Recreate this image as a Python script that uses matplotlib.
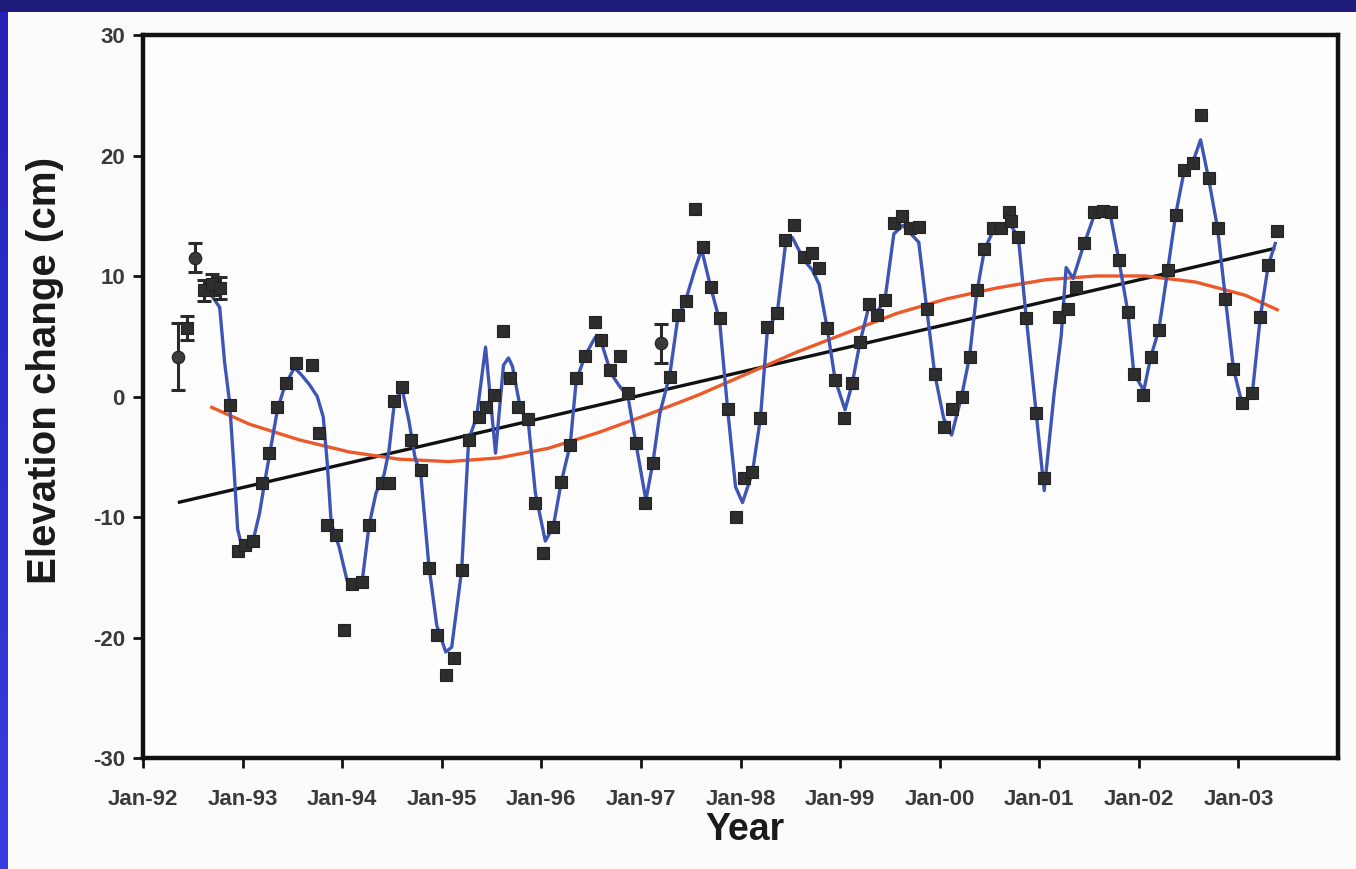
import numpy as np
import matplotlib
matplotlib.use("Agg")
import matplotlib.pyplot as plt
from matplotlib.colors import LinearSegmentedColormap

plt.rcParams['font.family'] = ['Liberation Sans', 'DejaVu Sans']
plt.rcParams['axes.unicode_minus'] = False

# ---------------- data ----------------
# observed points (decimal year, elevation change cm)
obs_year = [1992.35, 1992.44, 1992.52, 1992.61, 1992.69, 1992.77, 1992.87, 1992.95, 1993.02, 1993.10,
            1993.19, 1993.27, 1993.35, 1993.44, 1993.54, 1993.70, 1993.77, 1993.85, 1993.94, 1994.02,
            1994.10, 1994.20, 1994.27, 1994.40, 1994.47, 1994.52, 1994.60, 1994.69, 1994.79, 1994.87,
            1994.95, 1995.04, 1995.12, 1995.20, 1995.27, 1995.37, 1995.44, 1995.52, 1995.62, 1995.69,
            1995.77, 1995.87, 1995.94, 1996.02, 1996.12, 1996.20, 1996.29, 1996.35, 1996.44, 1996.54,
            1996.60, 1996.69, 1996.79, 1996.87, 1996.95, 1997.04, 1997.12, 1997.20, 1997.29, 1997.37,
            1997.45, 1997.54, 1997.62, 1997.70, 1997.79, 1997.87, 1997.95, 1998.04, 1998.12, 1998.20,
            1998.27, 1998.37, 1998.45, 1998.54, 1998.64, 1998.72, 1998.79, 1998.87, 1998.95, 1999.04,
            1999.12, 1999.20, 1999.29, 1999.37, 1999.45, 1999.54, 1999.62, 1999.70, 1999.79, 1999.87,
            1999.95, 2000.04, 2000.12, 2000.22, 2000.30, 2000.37, 2000.45, 2000.54, 2000.62, 2000.70,
            2000.72, 2000.79, 2000.87, 2000.97, 2001.05, 2001.20, 2001.29, 2001.37, 2001.45, 2001.55,
            2001.64, 2001.72, 2001.80, 2001.89, 2001.95, 2002.04, 2002.12, 2002.20, 2002.29, 2002.37,
            2002.45, 2002.54, 2002.62, 2002.70, 2002.79, 2002.87, 2002.95, 2003.04, 2003.14, 2003.22,
            2003.30, 2003.39]
obs_cm = [3.3, 5.7, 11.5, 8.8, 9.3, 9.0, -0.7, -12.8, -12.3, -12.0,
          -7.2, -4.7, -0.9, 1.1, 2.8, 2.6, -3.0, -10.7, -11.5, -19.4,
          -15.6, -15.4, -10.7, -7.2, -7.2, -0.4, 0.8, -3.6, -6.1, -14.2,
          -19.8, -23.1, -21.7, -14.4, -3.6, -1.7, -0.9, 0.1, 5.4, 1.5,
          -0.9, -1.9, -8.8, -13.0, -10.8, -7.1, -4.0, 1.5, 3.4, 6.2,
          4.7, 2.2, 3.4, 0.3, -3.9, -8.8, -5.5, 4.4, 1.6, 6.8,
          7.9, 15.6, 12.4, 9.1, 6.5, -1.0, -10.0, -6.8, -6.3, -1.8,
          5.8, 6.9, 13.0, 14.2, 11.6, 11.9, 10.7, 5.7, 1.4, -1.8,
          1.1, 4.5, 7.7, 6.8, 8.0, 14.4, 15.0, 14.0, 14.1, 7.3,
          1.9, -2.5, -1.0, 0.0, 3.3, 8.8, 12.2, 14.0, 14.0, 15.3,
          14.6, 13.2, 6.5, -1.4, -6.8, 6.6, 7.3, 9.1, 12.7, 15.3,
          15.4, 15.3, 11.3, 7.0, 1.9, 0.1, 3.3, 5.5, 10.5, 15.1,
          18.8, 19.4, 23.4, 18.1, 14.0, 8.1, 2.3, -0.5, 0.3, 6.6,
          10.9, 13.7]
# points drawn as circles
circle_idx = [0, 2, 57]
# points carrying visible error bars and their half-widths (cm)
err_idx = [0, 1, 2, 3, 4, 5, 57]
err_cm = [2.8, 1.0, 1.2, 0.9, 0.9, 0.9, 1.6]

# blue smoothed curve
blue_year = [1992.67, 1992.77, 1992.82, 1992.87, 1992.91, 1992.95, 1993.00, 1993.09, 1993.17, 1993.22,
             1993.29, 1993.35, 1993.42, 1993.52, 1993.59, 1993.67, 1993.75, 1993.81, 1993.85, 1993.89,
             1993.97, 1994.05, 1994.13, 1994.20, 1994.27, 1994.34, 1994.42, 1994.47, 1994.52, 1994.60,
             1994.67, 1994.73, 1994.79, 1994.87, 1994.95, 1995.04, 1995.10, 1995.20, 1995.27, 1995.35,
             1995.44, 1995.54, 1995.62, 1995.67, 1995.71, 1995.79, 1995.87, 1995.94, 1996.04, 1996.12,
             1996.20, 1996.29, 1996.35, 1996.44, 1996.54, 1996.61, 1996.70, 1996.79, 1996.87, 1996.95,
             1997.05, 1997.12, 1997.19, 1997.29, 1997.37, 1997.45, 1997.54, 1997.61, 1997.70, 1997.79,
             1997.87, 1997.95, 1998.02, 1998.12, 1998.20, 1998.27, 1998.37, 1998.45, 1998.52, 1998.64,
             1998.72, 1998.79, 1998.87, 1998.95, 1999.05, 1999.12, 1999.20, 1999.29, 1999.37, 1999.45,
             1999.54, 1999.63, 1999.70, 1999.79, 1999.87, 1999.95, 2000.04, 2000.12, 2000.22, 2000.30,
             2000.37, 2000.45, 2000.54, 2000.62, 2000.70, 2000.79, 2000.87, 2000.97, 2001.05, 2001.15,
             2001.22, 2001.27, 2001.34, 2001.44, 2001.55, 2001.64, 2001.72, 2001.80, 2001.89, 2001.95,
             2002.05, 2002.12, 2002.20, 2002.29, 2002.37, 2002.45, 2002.54, 2002.62, 2002.70, 2002.79,
             2002.87, 2002.95, 2003.04, 2003.14, 2003.22, 2003.30, 2003.37]
blue_cm = [8.6, 7.4, 2.8, -0.5, -5.5, -11.0, -12.7, -12.5, -9.7, -7.2,
           -3.9, -1.1, 0.8, 2.4, 1.8, 1.0, 0.0, -1.7, -5.5, -10.5,
           -12.5, -15.3, -15.9, -15.4, -10.7, -8.0, -6.5, -4.5, -0.8, 0.7,
           -2.0, -5.0, -6.5, -14.0, -19.0, -21.2, -20.8, -14.4, -3.6, -1.7,
           4.1, -4.7, 2.6, 3.2, 2.5, -1.0, -2.2, -8.0, -12.0, -10.8,
           -7.1, -4.0, 1.3, 3.4, 4.9, 4.3, 1.9, 0.8, 0.0, -3.9,
           -8.6, -5.5, -1.4, 1.8, 6.5, 8.0, 10.5, 12.2, 9.1, 6.3,
           -1.0, -7.5, -8.8, -6.3, -1.8, 5.5, 7.0, 12.5, 13.2, 11.3,
           10.5, 9.3, 5.7, 1.4, -1.1, 1.0, 4.5, 7.5, 7.0, 8.0,
           13.5, 14.2, 13.6, 12.8, 7.3, 1.9, -1.8, -3.2, 0.0, 3.3,
           8.5, 12.2, 13.8, 14.0, 14.4, 13.2, 6.5, -1.4, -7.8, 0.3,
           5.0, 10.7, 9.8, 12.4, 15.0, 15.3, 14.8, 11.3, 7.0, 1.9,
           0.5, 3.3, 5.5, 10.5, 15.1, 18.5, 19.4, 21.3, 18.1, 14.0,
           8.1, 2.3, -0.7, 0.3, 6.6, 10.9, 12.7]

# orange long-term curve
orange_year = [1992.69, 1993.07, 1993.57, 1994.07, 1994.57, 1995.07, 1995.57, 1996.07, 1996.57, 1997.07,
               1997.57, 1998.07, 1998.57, 1999.07, 1999.57, 2000.07, 2000.57, 2001.07, 2001.57, 2002.07,
               2002.57, 2003.07, 2003.39]
orange_cm = [-0.9, -2.3, -3.6, -4.6, -5.2, -5.4, -5.1, -4.3, -3.0, -1.5,
             0.1, 1.9, 3.7, 5.3, 6.9, 8.1, 9.0, 9.7, 10.0, 10.0,
             9.5, 8.4, 7.2]

# black linear trend
trend_year = [1992.35, 2003.37]
trend_cm = [-8.8, 12.3]

tick_years = list(range(1992, 2004))
tick_labels = ['Jan-92', 'Jan-93', 'Jan-94', 'Jan-95', 'Jan-96', 'Jan-97', 'Jan-98',
               'Jan-99', 'Jan-00', 'Jan-01', 'Jan-02', 'Jan-03']
y_ticks = [-30, -20, -10, 0, 10, 20, 30]

# ---------------- figure ----------------
W, H = 1356, 869
fig = plt.figure(figsize=(W / 100, H / 100), dpi=100, facecolor='#1e1b7a')

# white slide panel (background axes)
bg = fig.add_axes([8 / W, 0, 1 - 8 / W, (H - 12) / H], zorder=-5)
bg.set_facecolor('#fbfbfb')
bg.set_xticks([])
bg.set_yticks([])
for s in bg.spines.values():
    s.set_visible(False)

# bright blue left strip (gradient)
strip = fig.add_axes([0, 0, 8 / W, (H - 12) / H], zorder=-5)
grad = np.linspace(0, 1, 256).reshape(-1, 1)
cmap = LinearSegmentedColormap.from_list('strip', ['#2222b8', '#3b3be0'])
strip.imshow(grad, aspect='auto', cmap=cmap, origin='upper')
strip.axis('off')

ax = fig.add_axes([143 / W, (H - 758) / H, (1338 - 143) / W, (758 - 35) / H], zorder=2)
ax.set_facecolor('#fdfdfd')

ax.plot(trend_year, trend_cm, color='#111111', lw=2.4, zorder=3, solid_capstyle='butt')
ax.plot(orange_year, orange_cm, color='#ec5a2a', lw=2.4, zorder=3)
ax.plot(blue_year, blue_cm, color='#3f55b5', lw=2.4, zorder=4, solid_joinstyle='round')

obs_year_a = np.array(obs_year)
obs_cm_a = np.array(obs_cm)
sq_mask = np.ones(len(obs_year), bool)
sq_mask[circle_idx] = False

# error bars
ax.errorbar(obs_year_a[err_idx], obs_cm_a[err_idx], yerr=err_cm, fmt='none',
            ecolor='#2a2a2a', elinewidth=2.2, capsize=5, capthick=2.2, zorder=5)

ax.plot(obs_year_a[sq_mask], obs_cm_a[sq_mask], linestyle='none', marker='s',
        markersize=9.3, markerfacecolor='#2e2e2e', markeredgecolor='#222222',
        markeredgewidth=0.8, zorder=6)
ax.plot(obs_year_a[circle_idx], obs_cm_a[circle_idx], linestyle='none', marker='o',
        markersize=9, markerfacecolor='#3a3a3a', markeredgecolor='#222222',
        markeredgewidth=0.8, zorder=6)

ax.set_xlim(1992, 2004)
ax.set_ylim(-30, 30)
ax.set_xticks(tick_years)
ax.set_xticklabels(tick_labels)
ax.set_yticks(y_ticks)
for s in ax.spines.values():
    s.set_linewidth(3.2)
    s.set_color('#111111')
ax.tick_params(axis='both', direction='out', length=7, width=2, color='#111111',
               labelsize=16, labelcolor='#3a3a3a')
ax.tick_params(axis='x', pad=15)
ax.tick_params(axis='y', pad=6)
for lab in ax.get_xticklabels() + ax.get_yticklabels():
    lab.set_fontweight('bold')

fig.text(45 / W, 1 - 370 / H, 'Elevation change (cm)', rotation=90, ha='center', va='center',
         fontsize=29, fontweight='bold', color='#1a1a1a')
fig.text(745 / W, 1 - 830 / H, 'Year', ha='center', va='center',
         fontsize=27, fontweight='bold', color='#1a1a1a')

fig.savefig('out.png', dpi=100, facecolor=fig.get_facecolor())
